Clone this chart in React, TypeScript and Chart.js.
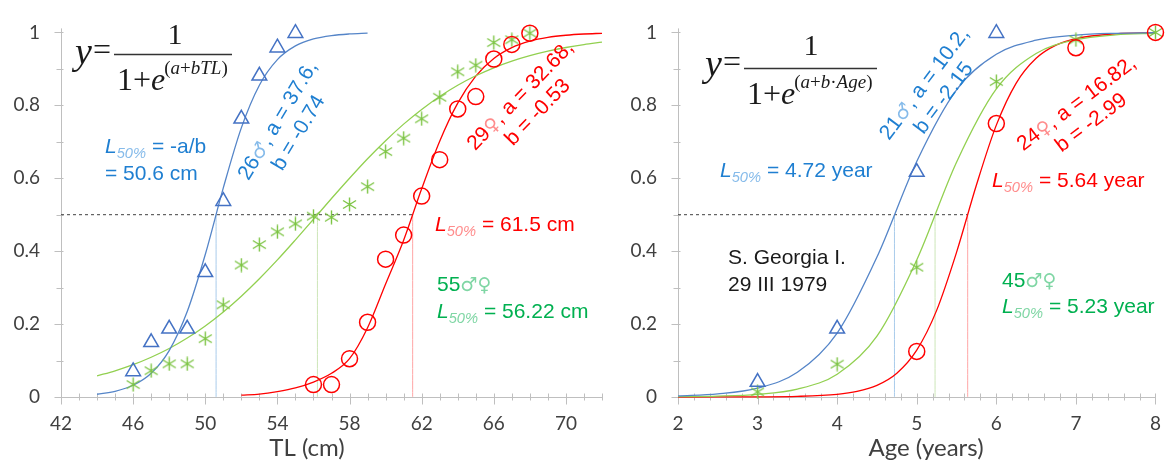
import React, { useEffect, useRef } from 'react';
import { Chart, registerables } from 'chart.js';
Chart.register(...registerables);

// ---------------- data ----------------
const tlAxisRange = [42, 72];
const tlTickLabels = [42, 46, 50, 54, 58, 62, 66, 70];
const ageAxisRange = [2, 8];
const ageTickLabels = [2, 3, 4, 5, 6, 7, 8];
const propTicks = [0, 0.2, 0.4, 0.6, 0.8, 1];
const cutoff = 0.5;

// observed proportion mature by total length (cm)
const tlMale = [46, 47, 48, 49, 50, 51, 52, 53, 54, 55];
const matMaleTL = [0.07, 0.15, 0.187, 0.187, 0.342, 0.537, 0.763, 0.881, 0.958, 0.998];
const tlFemale = [56, 57, 58, 59, 60, 61, 62, 63, 64, 65, 66, 67, 68];
const matFemaleTL = [0.034, 0.034, 0.105, 0.205, 0.378, 0.444, 0.551, 0.651, 0.79, 0.824, 0.927, 0.967, 0.998];
const tlAll = [46, 47, 48, 49, 50, 51, 52, 53, 54, 55, 56, 57, 58, 59, 60, 61, 62, 63, 64, 65, 66, 67, 68];
const matAllTL = [0.034, 0.072, 0.091, 0.091, 0.16, 0.253, 0.362, 0.418, 0.453, 0.475, 0.496, 0.493, 0.528, 0.577, 0.673, 0.71, 0.763, 0.822, 0.892, 0.91, 0.972, 0.98, 0.998];

// fitted ogives by TL
const tlCurveMale = [44, 45, 46, 47, 48, 49, 50, 51, 52, 53, 54, 55, 56, 57, 58, 59];
const fitMaleTL = [0.0075, 0.0156, 0.0322, 0.0651, 0.1274, 0.2343, 0.3908, 0.5735, 0.7381, 0.8552, 0.9253, 0.9629, 0.9819, 0.9913, 0.9958, 0.998];
const tlCurveAll = [44, 45, 46, 47, 48, 49, 50, 51, 52, 53, 54, 55, 56, 57, 58, 59, 60, 61, 62, 63, 64, 65, 66, 67, 68, 69, 70, 71, 72];
const fitAllTL = [0.058, 0.0719, 0.0887, 0.109, 0.133, 0.1617, 0.195, 0.2333, 0.2765, 0.3243, 0.376, 0.431, 0.4875, 0.5444, 0.6, 0.6535, 0.703, 0.7484, 0.7888, 0.8243, 0.855, 0.881, 0.9029, 0.9212, 0.9362, 0.9485, 0.9586, 0.9667, 0.9733];
const tlCurveFemale = [52, 53, 54, 55, 56, 57, 58, 59, 60, 61, 62, 63, 64, 65, 66, 67, 68, 69, 70, 71, 72];
const fitFemaleTL = [0.005, 0.008, 0.015, 0.025, 0.041, 0.065, 0.105, 0.19, 0.31, 0.43, 0.571, 0.7016, 0.806, 0.88, 0.9286, 0.9583, 0.976, 0.9863, 0.9922, 0.9956, 0.9975];
const l50TL = [50.6, 56.22, 61.5]; // male, both sexes, female

// observed proportion mature by age (years)
const ageMale = [3, 4, 5, 6];
const matMaleAge = [0.041, 0.187, 0.617, 0.998];
const ageAll = [3, 4, 5, 6, 7, 8];
const matAllAge = [0.014, 0.09, 0.356, 0.865, 0.98, 1.0];
const ageFemale = [5, 6, 7, 8];
const matFemaleAge = [0.125, 0.75, 0.958, 1.0];

// fitted ogives by age
const ageCurve = [2, 2.5, 3, 3.5, 4, 4.5, 5, 5.5, 6, 6.5, 7, 7.5, 8];
const fitMaleAge = [0.0029, 0.0084, 0.0242, 0.0677, 0.1754, 0.3839, 0.6461, 0.8425, 0.94, 0.9787, 0.9926, 0.9975, 0.9991];
const fitAllAge = [0.0008, 0.0025, 0.0074, 0.0218, 0.0626, 0.167, 0.376, 0.644, 0.845, 0.9423, 0.98, 0.9933, 0.9977];
const ageCurveFemale = [2, 2.5, 3, 3.5, 4, 4.25, 4.5, 4.75, 5, 5.25, 5.5, 5.75, 6, 6.25, 6.5, 6.75, 7, 7.5, 8];
const fitFemaleAge = [0.00002, 0.00008, 0.0004, 0.0017, 0.0074, 0.0154, 0.032, 0.0653, 0.1285, 0.2376, 0.3967, 0.5815, 0.7457, 0.861, 0.929, 0.965, 0.9831, 0.9962, 0.9991];
const l50Age = [4.72, 5.23, 5.64]; // male, both sexes, female

// ---------------- styles ----------------
const SANS = '"Liberation Sans", Arial, "DejaVu Sans", sans-serif';
const SYM = '"DejaVu Sans", sans-serif';
const SERIF = '"Liberation Serif", "Times New Roman", serif';
const TICKF = 'Lato, "Open Sans", sans-serif';
const AXIS = '#BFBFBF';
const TICK_TXT = '#404040';

const BLUE_MK = '#4472C4';
const BLUE_LN = '#5585C8';
const BLUE_T = '#1F7FD1';
const BLUE_L = '#86BBEA';
const BLUE_V = '#A9CBEB';
const GREEN_MK = '#7CC443';
const GREEN_LN = '#92D050';
const GREEN_T = '#00B050';
const GREEN_L = '#7FD6A4';
const GREEN_V = '#CDE6B8';
const RED = '#FF0000';
const RED_L = '#FF8C8C';
const RED_V = '#FFA6A6';

type Seg = { t: string; c?: string; i?: boolean; sub?: boolean; f?: string; s?: number };

function segFont(seg: Seg, size: number, family: string) {
  const s = seg.s ?? (seg.sub ? size * 0.7 : size);
  return `${seg.i ? 'italic ' : ''}${s}px ${seg.f ?? family}`;
}
function measureSegs(ctx: CanvasRenderingContext2D, segs: Seg[], size: number, family: string) {
  let w = 0;
  for (const s of segs) {
    ctx.font = segFont(s, size, family);
    w += ctx.measureText(s.t).width;
  }
  return w;
}
function drawSegs(ctx: CanvasRenderingContext2D, segs: Seg[], x: number, y: number, size: number, family: string, color: string, align: 'left' | 'center' = 'left') {
  let cx = align === 'center' ? x - measureSegs(ctx, segs, size, family) / 2 : x;
  ctx.textAlign = 'left';
  ctx.textBaseline = 'alphabetic';
  for (const s of segs) {
    ctx.font = segFont(s, size, family);
    ctx.fillStyle = s.c ?? color;
    ctx.fillText(s.t, cx, y + (s.sub ? size * 0.25 : 0));
    cx += ctx.measureText(s.t).width;
  }
}
function drawBlock(ctx: CanvasRenderingContext2D, lines: Seg[][], cx: number, cy: number, deg: number, size: number, lh: number, color: string) {
  ctx.save();
  ctx.translate(cx, cy);
  ctx.rotate((deg * Math.PI) / 180);
  const n = lines.length;
  lines.forEach((l, i) => drawSegs(ctx, l, 0, (i - (n - 1) / 2) * lh + size * 0.36, size, SANS, color, 'center'));
  ctx.restore();
}
function l50Segs(rest: string, light: string): Seg[] {
  return [{ t: 'L', i: true }, { t: '50%', i: true, sub: true, c: light }, { t: rest }];
}
function sym(t: string, c: string): Seg {
  return { t, c, f: SYM, s: 19 };
}

type FormulaSpec = {
  yx: number; yBase: number; eqX: number; lineX1: number; lineX2: number; lineY: number;
  numX: number; numBase: number; denX: number; denBase: number; expBase: number; exp: Seg[];
};
function drawFormula(ctx: CanvasRenderingContext2D, f: FormulaSpec) {
  const col = '#1A1A1A';
  drawSegs(ctx, [{ t: 'y', i: true }], f.yx, f.yBase, 38, SERIF, col);
  drawSegs(ctx, [{ t: '=' }], f.eqX, f.yBase - 4, 32, SERIF, col);
  ctx.save();
  ctx.strokeStyle = '#333';
  ctx.lineWidth = 1.3;
  ctx.beginPath();
  ctx.moveTo(f.lineX1, f.lineY);
  ctx.lineTo(f.lineX2, f.lineY);
  ctx.stroke();
  ctx.restore();
  drawSegs(ctx, [{ t: '1' }], f.numX, f.numBase, 30, SERIF, col, 'center');
  const den: Seg[] = [{ t: '1' }, { t: '+' }, { t: 'e', i: true }];
  drawSegs(ctx, den, f.denX, f.denBase, 32, SERIF, col);
  const w = measureSegs(ctx, den, 32, SERIF);
  drawSegs(ctx, f.exp, f.denX + w - 1, f.expBase, 19, SERIF, col);
}

function makeAsterisk(color: string) {
  const c = document.createElement('canvas');
  c.width = 15;
  c.height = 15;
  const g = c.getContext('2d')!;
  g.strokeStyle = color;
  g.lineWidth = 1.4;
  g.beginPath();
  g.moveTo(7.5, 0.5);
  g.lineTo(7.5, 14.5);
  g.moveTo(1, 3.5);
  g.lineTo(14, 11.5);
  g.moveTo(1, 11.5);
  g.lineTo(14, 3.5);
  g.stroke();
  return c;
}

const pts = (xs: number[], ys: number[]) => xs.map((x, i) => ({ x, y: ys[i] }));

function curve(data: { x: number; y: number }[], color: string, width = 1.3, dash: number[] = []) {
  return {
    data, showLine: true, borderColor: color, borderWidth: width, borderDash: dash,
    pointRadius: 0, cubicInterpolationMode: 'monotone', clip: false, fill: false,
  };
}
function markers(data: { x: number; y: number }[], style: any, color: string, radius: number) {
  return {
    data, showLine: false, pointStyle: style, pointRadius: radius, pointBorderColor: color,
    pointBackgroundColor: 'rgba(0,0,0,0)', pointBorderWidth: 1.5, clip: false,
  };
}

type PanelSpec = {
  offsetX: number; yWidth: number; padRight: number; xRange: number[]; xTicks: number[];
  minorX: number; title: string; titleX: number; datasets: any[]; draw: (ctx: CanvasRenderingContext2D) => void;
};

function panelConfig(p: PanelSpec): any {
  const plugin = {
    id: 'panelDecor',
    beforeDatasetsDraw(chart: any) {
      const { ctx, chartArea: a, scales } = chart;
      const x = scales.x, y = scales.y;
      const ax = Math.round(a.left) + 0.5;
      const ay = Math.round(a.bottom) + 0.5;
      ctx.save();
      ctx.strokeStyle = AXIS;
      ctx.lineWidth = 1;
      ctx.beginPath();
      ctx.moveTo(ax, a.top - 4);
      ctx.lineTo(ax, ay);
      ctx.lineTo(Math.round(a.right) + 0.5, ay);
      for (let i = 0; i <= 10; i++) {
        const v = i / 10;
        const py = Math.round(y.getPixelForValue(v)) + 0.5;
        ctx.moveTo(ax - (i % 2 === 0 ? 7 : 5), py);
        ctx.lineTo(ax + 2, py);
      }
      const n = Math.round((p.xRange[1] - p.xRange[0]) / p.minorX);
      for (let i = 0; i <= n; i++) {
        const v = p.xRange[0] + i * p.minorX;
        const px = Math.round(x.getPixelForValue(v)) + 0.5;
        const major = p.xTicks.some((m) => Math.abs(m - v) < 1e-6);
        ctx.moveTo(px, ay - 4);
        ctx.lineTo(px, ay + (major ? 7 : 3));
      }
      ctx.stroke();
      ctx.restore();
    },
    afterDraw(chart: any) {
      const ctx = chart.ctx as CanvasRenderingContext2D;
      ctx.save();
      ctx.translate(-p.offsetX, 0);
      p.draw(ctx);
      ctx.font = `24px ${TICKF}`;
      ctx.fillStyle = TICK_TXT;
      ctx.textAlign = 'center';
      ctx.textBaseline = 'alphabetic';
      ctx.fillText(p.title, p.titleX, 456);
      ctx.restore();
    },
  };
  return {
    type: 'scatter',
    data: { datasets: p.datasets },
    options: {
      animation: false,
      responsive: false,
      maintainAspectRatio: false,
      events: [],
      layout: { padding: { left: 0, top: 21, right: p.padRight, bottom: 0 } },
      plugins: { legend: { display: false }, tooltip: { enabled: false } },
      scales: {
        x: {
          type: 'linear', min: p.xRange[0], max: p.xRange[1],
          grid: { display: false, drawTicks: false }, border: { display: false },
          afterBuildTicks: (s: any) => { s.ticks = p.xTicks.map((v) => ({ value: v })); },
          afterFit: (s: any) => { s.height = 66; },
          ticks: { font: { family: TICKF, size: 19 }, color: TICK_TXT, padding: 15, maxRotation: 0, autoSkip: false, callback: (v: number) => String(v) },
        },
        y: {
          type: 'linear', min: 0, max: 1,
          grid: { display: false, drawTicks: false }, border: { display: false },
          afterBuildTicks: (s: any) => { s.ticks = propTicks.map((v) => ({ value: v })); },
          afterFit: (s: any) => { s.width = p.yWidth; },
          ticks: { font: { family: TICKF, size: 19 }, color: TICK_TXT, padding: 21, callback: (v: number) => String(Math.round(v * 10) / 10) },
        },
      },
    },
    plugins: [plugin],
  };
}

function leftPanel(star: HTMLCanvasElement): PanelSpec {
  return {
    offsetX: 0, yWidth: 61, padRight: 8, xRange: tlAxisRange, xTicks: tlTickLabels, minorX: 1,
    title: 'TL (cm)', titleX: 307,
    datasets: [
      markers(pts(tlFemale, matFemaleTL), 'circle', RED, 8),
      markers(pts(tlMale, matMaleTL), 'triangle', BLUE_MK, 8.5),
      markers(pts(tlAll, matAllTL), star, GREEN_MK, 7),
      curve(pts(tlCurveMale, fitMaleTL), BLUE_LN),
      curve(pts(tlCurveAll, fitAllTL), GREEN_LN),
      curve(pts(tlCurveFemale, fitFemaleTL), RED),
      curve([{ x: tlAxisRange[0], y: cutoff }, { x: l50TL[2], y: cutoff }], '#404040', 1, [3, 3]),
      curve([{ x: l50TL[0], y: 0 }, { x: l50TL[0], y: cutoff }], BLUE_V, 1),
      curve([{ x: l50TL[1], y: 0 }, { x: l50TL[1], y: cutoff }], GREEN_V, 1),
      curve([{ x: l50TL[2], y: 0 }, { x: l50TL[2], y: cutoff }], RED_V, 1),
    ],
    draw: (ctx) => {
      drawFormula(ctx, {
        yx: 75, yBase: 64, eqX: 93, lineX1: 114, lineX2: 232, lineY: 54.5,
        numX: 175, numBase: 44, denX: 117, denBase: 90, expBase: 74,
        exp: [{ t: '(' }, { t: 'a', i: true }, { t: '+' }, { t: 'bTL', i: true }, { t: ')' }],
      });
      drawBlock(ctx, [[{ t: '26' }, sym('♂', BLUE_L), { t: ', a = 37.6,' }], [{ t: 'b = -0.74' }]], 287, 126, -59, 21, 24, BLUE_T);
      drawBlock(ctx, [[{ t: '29' }, sym('♀', RED_L), { t: ', a = 32.68,' }], [{ t: 'b = -0.53' }]], 528, 103, -46, 21, 24, RED);
      drawSegs(ctx, l50Segs(' = -a/b', BLUE_L), 105, 153, 21, SANS, BLUE_T);
      drawSegs(ctx, [{ t: '= 50.6 cm' }], 105, 180, 21, SANS, BLUE_T);
      drawSegs(ctx, l50Segs(' = 61.5 cm', RED_L), 435, 231, 21, SANS, RED);
      drawSegs(ctx, [{ t: '55' }, sym('♂♀', GREEN_L)], 437, 291, 21, SANS, GREEN_T);
      drawSegs(ctx, l50Segs(' = 56.22 cm', GREEN_L), 437, 318, 21, SANS, GREEN_T);
    },
  };
}

function rightPanel(star: HTMLCanvasElement): PanelSpec {
  return {
    offsetX: 600, yWidth: 78, padRight: 10, xRange: ageAxisRange, xTicks: ageTickLabels, minorX: 0.2,
    title: 'Age (years)', titleX: 926,
    datasets: [
      markers(pts(ageFemale, matFemaleAge), 'circle', RED, 8),
      markers(pts(ageMale, matMaleAge), 'triangle', BLUE_MK, 8.5),
      markers(pts(ageAll, matAllAge), star, GREEN_MK, 7),
      curve(pts(ageCurve, fitMaleAge), BLUE_LN),
      curve(pts(ageCurve, fitAllAge), GREEN_LN),
      curve(pts(ageCurveFemale, fitFemaleAge), RED),
      curve([{ x: ageAxisRange[0], y: cutoff }, { x: l50Age[2], y: cutoff }], '#404040', 1, [3, 3]),
      curve([{ x: l50Age[0], y: 0 }, { x: l50Age[0], y: cutoff }], BLUE_V, 1),
      curve([{ x: l50Age[1], y: 0 }, { x: l50Age[1], y: cutoff }], GREEN_V, 1),
      curve([{ x: l50Age[2], y: 0 }, { x: l50Age[2], y: cutoff }], RED_V, 1),
    ],
    draw: (ctx) => {
      drawFormula(ctx, {
        yx: 705, yBase: 76, eqX: 723, lineX1: 744, lineX2: 877, lineY: 68.5,
        numX: 811, numBase: 55, denX: 747, denBase: 104, expBase: 88,
        exp: [{ t: '(' }, { t: 'a', i: true }, { t: '+' }, { t: 'b', i: true }, { t: '·' }, { t: 'Age', i: true }, { t: ')' }],
      });
      drawBlock(ctx, [[{ t: '21' }, sym('♂', BLUE_L), { t: ', a = 10.2,' }], [{ t: 'b = -2.15' }]], 933, 90, -53, 21, 24, BLUE_T);
      drawBlock(ctx, [[{ t: '24' }, sym('♀', RED_L), { t: ', a = 16.82,' }], [{ t: 'b = -2.99' }]], 1083, 112, -37, 21, 24, RED);
      drawSegs(ctx, l50Segs(' = 4.72 year', BLUE_L), 720, 177, 21, SANS, BLUE_T);
      drawSegs(ctx, l50Segs(' = 5.64 year', RED_L), 992, 187, 21, SANS, RED);
      drawSegs(ctx, [{ t: 'S. Georgia I.' }], 728, 264, 21, SANS, '#1A1A1A');
      drawSegs(ctx, [{ t: '29 III 1979' }], 728, 291, 21, SANS, '#1A1A1A');
      drawSegs(ctx, [{ t: '45' }, sym('♂♀', GREEN_L)], 1002, 287, 21, SANS, GREEN_T);
      drawSegs(ctx, l50Segs(' = 5.23 year', GREEN_L), 1002, 313, 21, SANS, GREEN_T);
    },
  };
}

export default function App() {
  const leftRef = useRef<HTMLCanvasElement>(null);
  const rightRef = useRef<HTMLCanvasElement>(null);
  useEffect(() => {
    const star = makeAsterisk(GREEN_MK);
    const left = new Chart(leftRef.current!, panelConfig(leftPanel(star)));
    const right = new Chart(rightRef.current!, panelConfig(rightPanel(star)));
    return () => {
      left.destroy();
      right.destroy();
    };
  }, []);
  return (
    <div style={{ position: 'fixed', left: 0, top: 0, width: 1176, height: 463, background: '#fff' }}>
      <canvas ref={leftRef} width={612} height={463} style={{ position: 'absolute', left: 0, top: 0, width: 612, height: 463 }} />
      <canvas ref={rightRef} width={576} height={463} style={{ position: 'absolute', left: 600, top: 0, width: 576, height: 463 }} />
    </div>
  );
}
